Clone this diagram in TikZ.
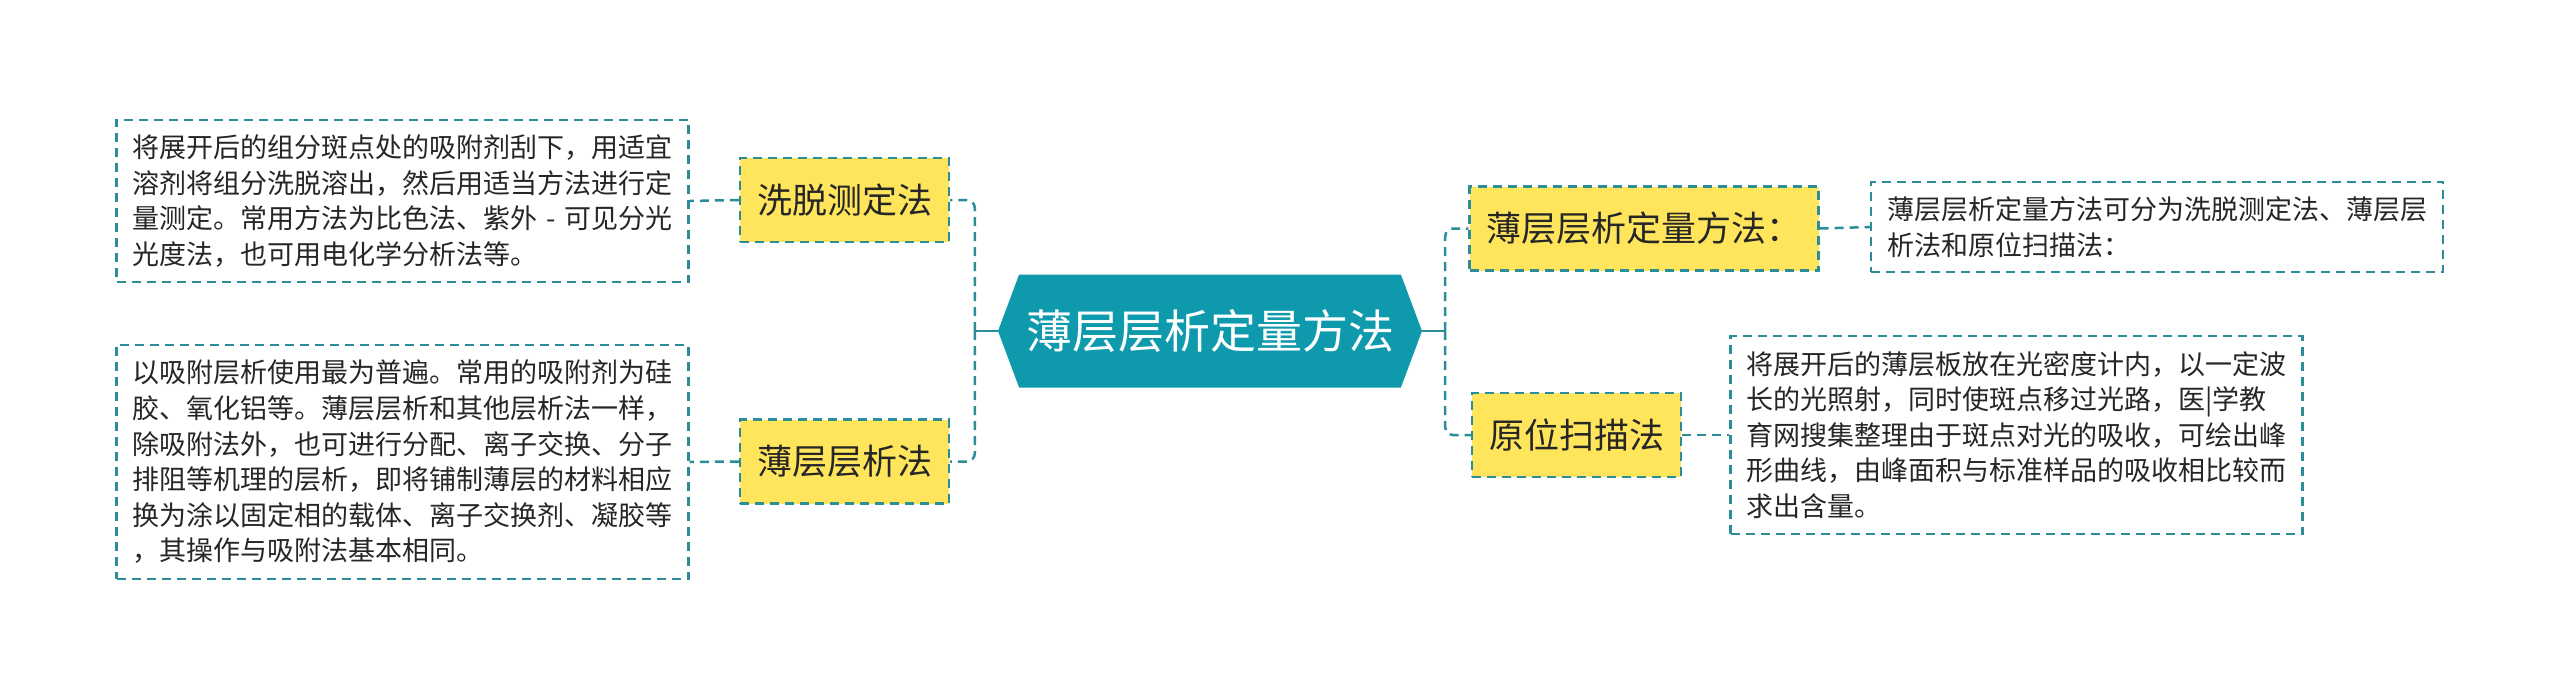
\documentclass[tikz,border=0pt]{standalone}
\usepackage{fontspec}
\setmainfont{Noto Sans CJK SC}
\usetikzlibrary{positioning,shapes.symbols}
\definecolor{rootteal}{HTML}{0E9AAC}
\definecolor{lineteal}{HTML}{2A8D97}
\definecolor{topicyellow}{HTML}{FEE55C}
\definecolor{txtgray}{HTML}{262626}

\begin{document}
\begin{tikzpicture}[x=1pt,y=-1pt,
    root/.style={shape=signal,signal to=west and east,signal pointer angle=139,
      fill=rootteal,text=white,minimum height=113pt,minimum width=424pt,inner xsep=4pt,
      font=\fontsize{46}{50}\selectfont},
    topic/.style={draw=lineteal,dash pattern=on 9pt off 6pt,line width=2.2pt,
      fill=topicyellow,text=txtgray,minimum height=84pt,inner xsep=17pt,
      font=\fontsize{35}{40}\selectfont},
    detail/.style={draw=lineteal,dash pattern=on 9pt off 6pt,line width=2.2pt,
      fill=white,text=txtgray,text width=540pt,align=left,inner xsep=16pt,inner ysep=15pt,
      font=\fontsize{27}{35.6}\selectfont},
    stub/.style={draw=lineteal,line width=2.5pt},
    link/.style={draw=lineteal,line width=2.5pt,dash pattern=on 9pt off 6pt,rounded corners=8pt}]
  \useasboundingbox (0,0) rectangle (2560,697);

  \node[root] (root) at (1210,331) {薄层层析定量方法};
  \coordinate (lspine) at ([xshift=-23pt]root.west);
  \coordinate (rspine) at ([xshift=23pt]root.east);

  \node[topic] (elute) at (844.5,200) {洗脱测定法};
  \node[topic] (tlc) at (844.5,461.5) {薄层层析法};
  \node[topic] (quant) at (1644,228.5) {薄层层析定量方法：};
  \node[topic] (scan) at (1576.5,435) {原位扫描法};

  \node[detail] (elute_d) at (402.5,201) {将展开后的组分斑点处的吸附剂刮下，用适宜\\溶剂将组分洗脱溶出，然后用适当方法进行定\\\mbox{量测定。常用方法为比色法、紫外 - 可见分光}\\光度法，也可用电化学分析法等。};
  \node[detail] (tlc_d) at (402.5,462) {以吸附层析使用最为普遍。常用的吸附剂为硅\\胶、氧化铝等。薄层层析和其他层析法一样，\\除吸附法外，也可进行分配、离子交换、分子\\排阻等机理的层析，即将铺制薄层的材料相应\\换为涂以固定相的载体、离子交换剂、凝胶等\\，其操作与吸附法基本相同。};
  \node[detail] (quant_d) at (2157,227) {薄层层析定量方法可分为洗脱测定法、薄层层\\析法和原位扫描法：};
  \node[detail] (scan_d) at (2016.5,435) {将展开后的薄层板放在光密度计内，以一定波\\长的光照射，同时使斑点移过光路，医|学教\\育网搜集整理由于斑点对光的吸收，可绘出峰\\形曲线，由峰面积与标准样品的吸收相比较而\\求出含量。};

  \path[stub] (root.west) -- (lspine);
  \path[stub] (root.east) -- (rspine);
  \path[link] (lspine) |- (elute.east);
  \path[link] (lspine) |- (tlc.east);
  \path[link] (rspine) |- (quant.west);
  \path[link] (rspine) |- (scan.west);
  \path[link] (elute.west) -- (elute_d.east);
  \path[link] (tlc.west) -- (tlc_d.east);
  \path[link] (quant.east) -- (quant_d.west);
  \path[link] (scan.east) -- (scan_d.west);
\end{tikzpicture}
\end{document}
